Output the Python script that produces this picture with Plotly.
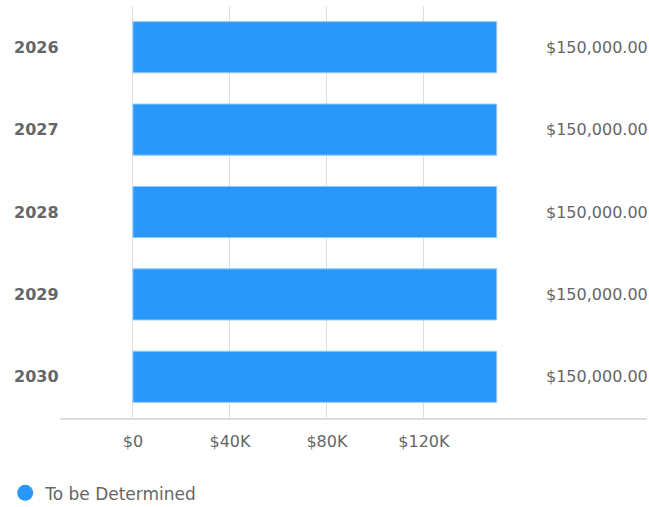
import plotly.graph_objects as go

years = ["2026", "2027", "2028", "2029", "2030"]
amounts = [150000, 150000, 150000, 150000, 150000]
series_name = "To be Determined"
tick_vals = [0, 40000, 80000, 120000]
tick_text = ["$0", "$40K", "$80K", "$120K"]

bar_color = "#2997f9"
grey = "#666666"
font_family = "DejaVu Sans"

fig = go.Figure()
fig.add_trace(go.Bar(
    y=years, x=amounts, orientation="h",
    marker=dict(color=bar_color, line=dict(color="#8cc8fb", width=1)),
    width=0.62, showlegend=False, hoverinfo="x+y",
))
# legend entry drawn as a circle
fig.add_trace(go.Scatter(
    x=[None], y=[None], mode="markers", name=series_name,
    marker=dict(color=bar_color, size=17, symbol="circle"),
))

annotations = []
for i, (yr, amt) in enumerate(zip(years, amounts)):
    annotations.append(dict(
        x=-0.081, xref="paper", y=i, yref="y", text="<b>" + yr + "</b>",
        showarrow=False, xanchor="left", font=dict(size=16, color=grey),
    ))
    annotations.append(dict(
        x=1, xref="paper", y=i, yref="y", text="${:,.2f}".format(amt),
        showarrow=False, xanchor="right", xshift=3,
        font=dict(size=16, color=grey),
    ))

fig.update_layout(
    width=649, height=507,
    margin=dict(l=60, r=2, t=6, b=89, autoexpand=False),
    paper_bgcolor="white", plot_bgcolor="white",
    font=dict(family=font_family, color=grey),
    xaxis=dict(
        range=[-30100, 212000], tickvals=tick_vals, ticktext=tick_text,
        showgrid=True, gridcolor="#dedede", gridwidth=1,
        showline=True, linecolor="#dcdcdc", linewidth=2,
        zeroline=False, tickfont=dict(size=16, color=grey),
        ticklabelstandoff=8, fixedrange=True,
    ),
    yaxis=dict(
        type="category", categoryorder="array", categoryarray=years,
        range=[4.5, -0.5],
        showticklabels=False, showgrid=False, zeroline=False, fixedrange=True,
    ),
    legend=dict(
        orientation="h", xref="container", x=0.008, xanchor="left",
        yref="container", y=0.027, yanchor="middle",
        font=dict(size=17, color=grey), itemsizing="trace",
    ),
    annotations=annotations,
)

fig.write_html("out.html", config={"displayModeBar": False},
               post_script="document.body.style.margin='0px';")
